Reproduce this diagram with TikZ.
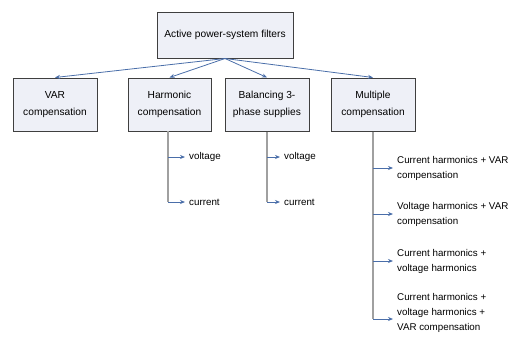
\documentclass[tikz,border=0pt]{standalone}
\usepackage{fontspec}
\setmainfont{Liberation Sans}
\usetikzlibrary{arrows.meta}
\definecolor{boxfill}{HTML}{EEF0F7}
\definecolor{boxline}{HTML}{3F3F3F}
\definecolor{conn}{HTML}{4A6EA9}
\definecolor{trunkc}{HTML}{A0A0A0}
\tikzset{
  box/.style={draw=boxline, line width=1pt, fill=boxfill, minimum width=84pt, minimum height=53pt, align=center, font=\fontsize{10.2}{17}\selectfont, inner sep=1pt},
  topbox/.style={box, minimum width=136pt, minimum height=46pt},
  item/.style={anchor=west, align=left, font=\fontsize{9.8}{15}\selectfont, inner sep=0pt},
  conarrow/.style={draw=conn, line width=0.8pt, -{Stealth[length=5pt,width=4pt]}},
  stub/.style={conarrow, shorten >=4pt},
  trunk/.style={draw=trunkc, line width=1.2pt},
}
\begin{document}
\begin{tikzpicture}[x=1pt,y=-1pt]
\useasboundingbox (0,0) rectangle (516,343);
\node[topbox] (top) at (225,35) {Active power-system filters};
\node[box] (var) at (55,104.5) {VAR\\compensation};
\node[box, minimum width=83pt] (harm) at (169.5,104.5) {Harmonic\\compensation};
\node[box] (bal) at (267,104.5) {Balancing 3-\\phase supplies};
\node[box] (mult) at (373,104.5) {Multiple\\compensation};
\foreach \t in {var,harm,bal,mult} \draw[conarrow] (top.south) -- (\t.north);
% harmonic branch
\node[item] (hv) at (189,157) {voltage};
\node[item] (hc) at (189,202) {current};
\coordinate (htop) at (168,131);
\coordinate (hmid) at (168,157);
\coordinate (hend) at (168,202);
\draw[trunk] (htop) -- (hend);
\draw[stub] (hmid) -- (hv.west);
\draw[stub] (hend) -- (hc.west);
% balancing branch
\node[item] (bv) at (284,157) {voltage};
\node[item] (bc) at (284,202) {current};
\coordinate (bmid) at (267,157);
\coordinate (bend) at (267,202);
\draw[trunk] (bal.south) -- (bend);
\draw[stub] (bmid) -- (bv.west);
\draw[stub] (bend) -- (bc.west);
% multiple branch
\node[item] (m1) at (397,168) {Current harmonics + VAR\\compensation};
\node[item] (m2) at (397,214) {Voltage harmonics + VAR\\compensation};
\node[item] (m3) at (397,261) {Current harmonics +\\voltage harmonics};
\node[item] (m4) at (397,313) {Current harmonics +\\voltage harmonics +\\VAR compensation};
\coordinate (m1s) at (373,168);
\coordinate (m2s) at (373,214);
\coordinate (m3s) at (373,261);
\coordinate (mend) at (373,319);
\coordinate (m4t) at (397,319);
\draw[trunk] (mult.south) -- (mend);
\draw[stub] (m1s) -- (m1.west);
\draw[stub] (m2s) -- (m2.west);
\draw[stub] (m3s) -- (m3.west);
\draw[stub] (mend) -- (m4t);
\end{tikzpicture}
\end{document}
